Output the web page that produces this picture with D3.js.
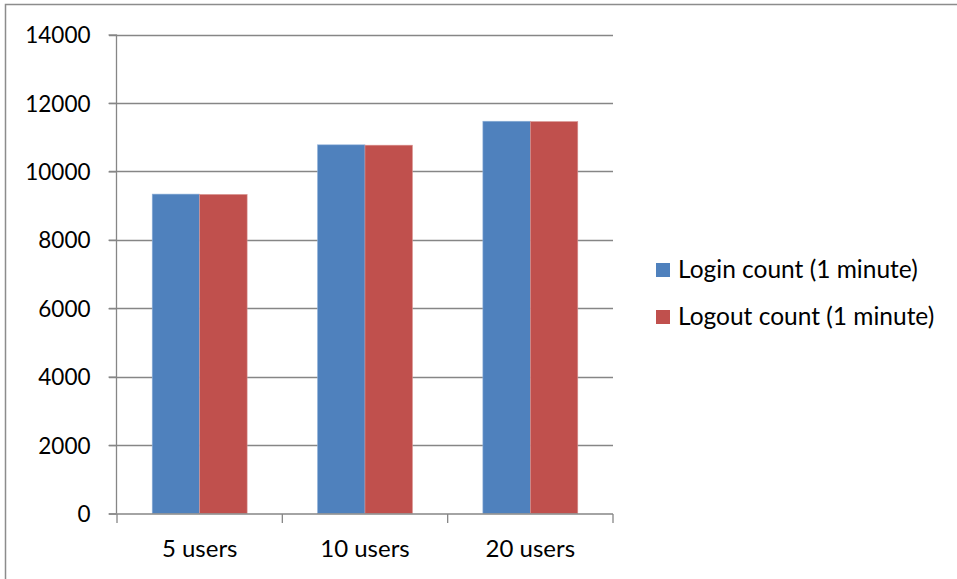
<!DOCTYPE html>
<html>
<head>
<meta charset="utf-8">
<script src="https://cdn.jsdelivr.net/npm/d3@7.9.0/dist/d3.min.js"></script>
<style>
  body { margin: 0; background: #fff; }
  svg text { font-family: Lato, "Open Sans", sans-serif; fill: #000; }
</style>
</head>
<body>
<svg id="chart" width="957" height="579"></svg>
<script>
// data
const categories = ['5 users', '10 users', '20 users'];
const seriesNames = ['Login count (1 minute)', 'Logout count (1 minute)'];
const loginCounts = [9335, 10775, 11465];
const logoutCounts = [9325, 10765, 11455];
const yTicks = [0, 2000, 4000, 6000, 8000, 10000, 12000, 14000];

const colors = ['#4F81BD', '#C0504D'];
const series = [loginCounts, logoutCounts];

const svg = d3.select('#chart');

// frame (only top and left edges are visible in the crop)
svg.append('path')
  .attr('d', 'M5.5,579 V4.5 H957')
  .attr('fill', 'none')
  .attr('stroke', '#8c8c8c')
  .attr('stroke-width', 1.5);

const plotLeft = 117, plotRight = 613, plotTop = 34.5, plotBottom = 513.5;

const y = d3.scaleLinear().domain([0, 14000]).range([plotBottom, plotTop]);
const x0 = d3.scaleBand().domain(categories).range([plotLeft, plotRight])
  .paddingInner(0.426).paddingOuter(0.213);
const x1 = d3.scaleBand().domain(d3.range(series.length)).range([0, x0.bandwidth()]);

// gridlines
svg.append('g').selectAll('line')
  .data(yTicks.filter(d => d > 0))
  .join('line')
  .attr('x1', plotLeft - 8).attr('x2', plotRight)
  .attr('y1', d => Math.round(y(d)) + 0.5).attr('y2', d => Math.round(y(d)) + 0.5)
  .attr('stroke', '#868686').attr('stroke-width', 1.3);

// bars
const groups = svg.append('g').selectAll('g')
  .data(categories)
  .join('g')
  .attr('transform', d => `translate(${x0(d)},0)`);

groups.selectAll('rect')
  .data((d, i) => series.map((s, k) => ({ k, v: s[i] })))
  .join('rect')
  .attr('x', d => x1(d.k))
  .attr('y', d => y(d.v))
  .attr('width', x1.bandwidth())
  .attr('height', d => plotBottom - y(d.v))
  .attr('fill', d => colors[d.k])
  .attr('stroke', d => d.k === 0 ? '#8fb0d8' : '#d99391')
  .attr('stroke-width', 0.6);

// y axis
const yAxis = svg.append('g')
  .attr('transform', `translate(${plotLeft - 0.5},0)`)
  .call(d3.axisLeft(y).tickValues(yTicks).tickSize(8).tickPadding(18).tickFormat(d3.format('d')));
yAxis.selectAll('line, path').attr('stroke', '#868686').attr('stroke-width', 1.3);
yAxis.select('.domain').attr('d', `M0,${plotTop}V${plotBottom}`);
yAxis.selectAll('text').style('font-size', '22.5px').attr('dy', '0.36em');

// x axis
const xAxis = svg.append('g')
  .attr('transform', `translate(0,${Math.round(plotBottom)})`);
xAxis.append('line')
  .attr('x1', plotLeft - 8).attr('x2', plotRight)
  .attr('stroke', '#868686').attr('stroke-width', 1.3);
const xTicks = d3.range(categories.length + 1).map(i => plotLeft + i * x0.step());
xAxis.selectAll('.tick')
  .data(xTicks)
  .join('line')
  .attr('x1', d => d).attr('x2', d => d)
  .attr('y1', 0).attr('y2', 9)
  .attr('stroke', '#868686').attr('stroke-width', 1.3);
xAxis.selectAll('text')
  .data(categories)
  .join('text')
  .attr('x', d => x0(d) + x0.bandwidth() / 2)
  .attr('y', 43)
  .attr('text-anchor', 'middle')
  .style('font-size', '24px')
  .text(d => d);

// legend
const legend = svg.append('g').attr('transform', 'translate(656,263)');
const items = legend.selectAll('g')
  .data(seriesNames)
  .join('g')
  .attr('transform', (d, i) => `translate(0,${i * 47})`);
items.append('rect')
  .attr('width', 14).attr('height', 14)
  .attr('fill', (d, i) => colors[i]);
items.append('text')
  .attr('x', 22).attr('y', 14.5)
  .style('font-size', '24.5px')
  .text(d => d);
</script>
</body>
</html>
